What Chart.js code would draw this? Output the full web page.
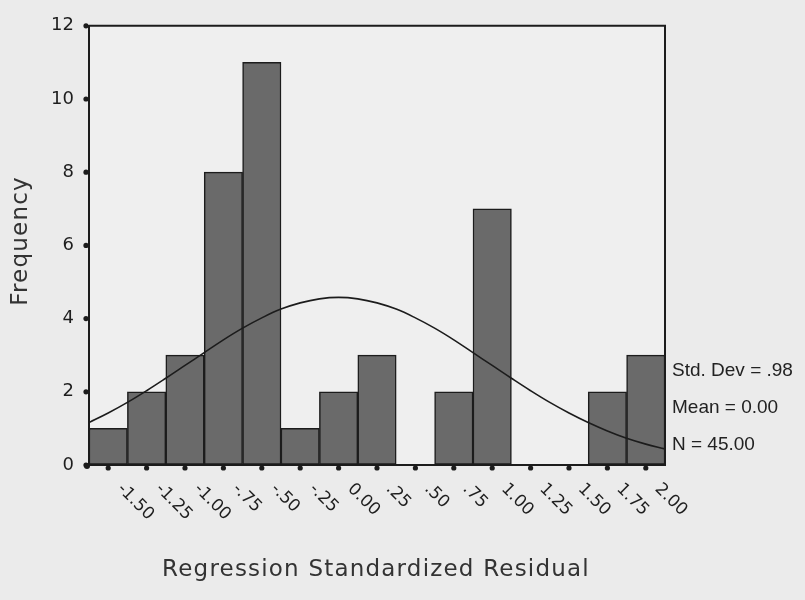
<!DOCTYPE html>
<html>
<head>
<meta charset="utf-8">
<script src="https://cdn.jsdelivr.net/npm/chart.js@4/dist/chart.umd.min.js"></script>
<style>
  html, body { margin: 0; padding: 0; background: #ebebeb; }
  #wrap { width: 805px; height: 600px; }
</style>
</head>
<body>
<div id="wrap"><canvas id="chart" width="805" height="600"></canvas></div>
<script>
// bin centres (Regression Standardized Residual) and their counts
const binCenters = [-1.5, -1.25, -1.0, -0.75, -0.5, -0.25, 0.0, 0.25, 0.5, 0.75, 1.0, 1.25, 1.5, 1.75, 2.0];
const binLabels = ['-1.50', '-1.25', '-1.00', '-.75', '-.50', '-.25', '0.00', '.25', '.50', '.75', '1.00', '1.25', '1.50', '1.75', '2.00'];
const frequencies = [1, 2, 3, 8, 11, 1, 2, 3, 0, 2, 7, 0, 0, 2, 3];

// normal curve
const curveX = [-1.625, -1.5, -1.375, -1.25, -1.125, -1.0, -0.875, -0.75, -0.625, -0.5, -0.375, -0.25, -0.125, 0.0,
  0.125, 0.25, 0.375, 0.5, 0.625, 0.75, 0.875, 1.0, 1.125, 1.25, 1.375, 1.5, 1.625, 1.75, 1.875, 2.0, 2.125];
const curveY = [1.16, 1.42, 1.71, 2.03, 2.37, 2.72, 3.07, 3.42, 3.74, 4.02, 4.26, 4.43, 4.54, 4.58,
  4.54, 4.43, 4.26, 4.02, 3.74, 3.42, 3.07, 2.72, 2.37, 2.03, 1.71, 1.42, 1.16, 0.93, 0.73, 0.57, 0.44];

const statLines = ['Std. Dev = .98', 'Mean = 0.00', 'N = 45.00'];

const ink = '#1c1c1c';

// draws the frame, tick dots, rotated x labels, titles and the stats box
const histDecor = {
  id: 'histDecor',
  beforeDraw(chart) {
    const { ctx, chartArea: a } = chart;
    ctx.save();
    ctx.fillStyle = '#ebebeb';
    ctx.fillRect(0, 0, chart.width, chart.height);
    ctx.fillStyle = '#efefef';
    ctx.fillRect(a.left, a.top, a.right - a.left, a.bottom - a.top);
    ctx.restore();
  },
  afterDraw(chart) {
    const { ctx, chartArea: a, scales } = chart;
    const x = scales.x;
    const y = scales.y;
    ctx.save();

    // top and right edges of the box
    ctx.strokeStyle = ink;
    ctx.lineWidth = 2;
    ctx.beginPath();
    ctx.moveTo(a.left, a.top);
    ctx.lineTo(a.right, a.top);
    ctx.lineTo(a.right, a.bottom);
    ctx.stroke();

    // tick dots
    ctx.fillStyle = ink;
    binCenters.forEach((v) => {
      ctx.beginPath();
      ctx.arc(x.getPixelForValue(v), a.bottom + 3, 2.6, 0, Math.PI * 2);
      ctx.fill();
    });
    y.ticks.forEach((t) => {
      ctx.beginPath();
      ctx.arc(a.left - 3, y.getPixelForValue(t.value), 2.6, 0, Math.PI * 2);
      ctx.fill();
    });
    ctx.beginPath();
    ctx.arc(a.left - 2, a.bottom + 1, 3, 0, Math.PI * 2);
    ctx.fill();

    // rotated x labels, reading down to the right
    ctx.font = '17px "DejaVu Sans"';
    ctx.fillStyle = '#1e1e1e';
    ctx.textAlign = 'left';
    ctx.textBaseline = 'alphabetic';
    binCenters.forEach((v, i) => {
      ctx.save();
      ctx.translate(x.getPixelForValue(v) + 17, a.bottom + 16);
      ctx.rotate(Math.PI / 4);
      ctx.fillText(binLabels[i], 0, 12);
      ctx.restore();
    });

    // axis titles
    ctx.fillStyle = '#333';
    ctx.font = '23px "DejaVu Sans"';
    ctx.letterSpacing = '1.2px';
    ctx.textAlign = 'center';
    ctx.textBaseline = 'middle';
    ctx.fillText('Regression Standardized Residual', 376, 570);
    ctx.save();
    ctx.translate(21, 241);
    ctx.rotate(-Math.PI / 2);
    ctx.fillText('Frequency', 0, 0);
    ctx.restore();
    ctx.letterSpacing = '0px';

    // stats
    ctx.fillStyle = '#222';
    ctx.font = '19px "Liberation Sans"';
    ctx.textAlign = 'left';
    const statY = [371, 408, 445];
    statLines.forEach((s, i) => ctx.fillText(s, a.right + 7, statY[i]));

    ctx.restore();
  },
};

new Chart(document.getElementById('chart'), {
  data: {
    datasets: [
      {
        type: 'line',
        data: curveX.map((v, i) => ({ x: v, y: curveY[i] })),
        borderColor: ink,
        borderWidth: 1.6,
        pointRadius: 0,
        tension: 0.4,
        fill: false,
        order: 0,
      },
      {
        type: 'bar',
        data: binCenters.map((v, i) => ({ x: v, y: frequencies[i] })),
        backgroundColor: '#6a6a6a',
        borderColor: ink,
        borderWidth: 1.5,
        borderSkipped: false,
        barPercentage: 1,
        categoryPercentage: 1,
        order: 1,
      },
    ],
  },
  options: {
    responsive: false,
    animation: false,
    layout: { padding: { top: 18, right: 140, left: 0, bottom: 0 } },
    plugins: { legend: { display: false }, tooltip: { enabled: false } },
    scales: {
      x: {
        type: 'linear',
        min: -1.625,
        max: 2.125,
        offset: false,
        grid: { display: false },
        ticks: { display: false },
        border: { display: true, color: ink, width: 2 },
        afterFit: (s) => { s.height = 135; },
      },
      y: {
        min: 0,
        max: 12,
        ticks: {
          stepSize: 2,
          padding: 15,
          color: '#1e1e1e',
          font: { family: 'DejaVu Sans', size: 18 },
        },
        grid: { display: true, drawOnChartArea: false, drawTicks: false },
        border: { display: true, color: ink, width: 2 },
        afterFit: (s) => { s.width = 89; },
      },
    },
  },
  plugins: [histDecor],
});
</script>
</body>
</html>
